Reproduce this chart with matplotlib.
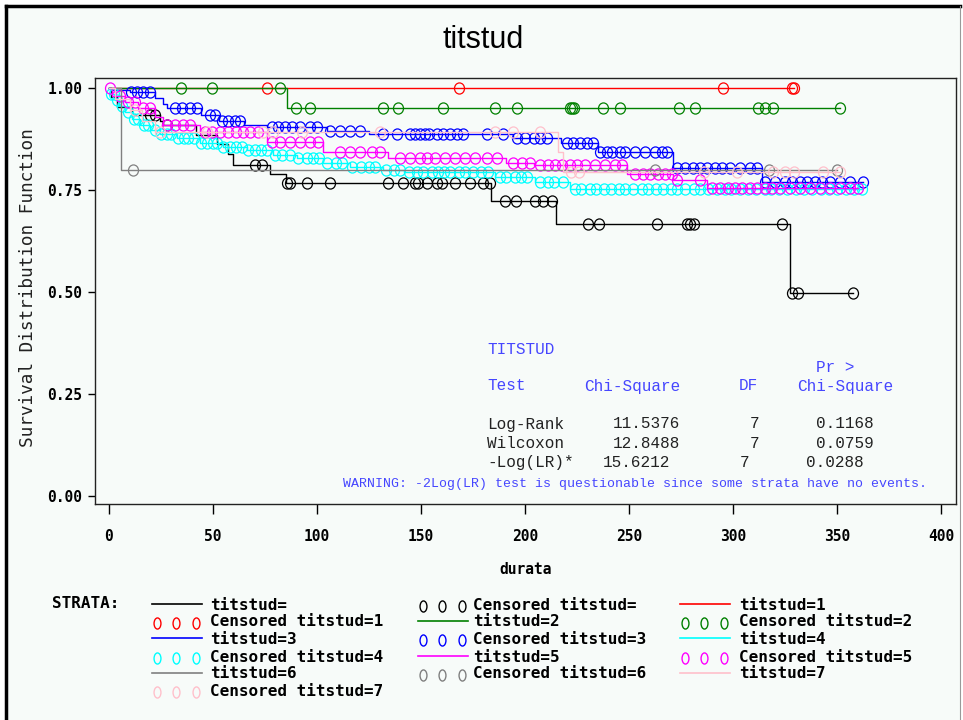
import numpy as np
import matplotlib
matplotlib.use('Agg')
import matplotlib.pyplot as plt
from matplotlib.lines import Line2D
from matplotlib.patches import Rectangle
from matplotlib.path import Path

# ---------------- data ----------------
strata = ['titstud=', 'titstud=1', 'titstud=2', 'titstud=3',
          'titstud=4', 'titstud=5', 'titstud=6', 'titstud=7']

black_t = [1, 4, 11, 24.5, 26, 42, 52, 57, 59.5, 77.4, 85, 183.6, 215, 327]
black_s = [0.977, 0.953, 0.935, 0.92, 0.91, 0.885, 0.862, 0.838, 0.812, 0.79,
           0.767, 0.723, 0.667, 0.497]
black_c = [19.7, 22, 27.9, 70, 73.6, 85.6, 87, 95.2, 106, 134, 141.3, 147, 148.6,
           152.9, 157.7, 160, 166.3, 173.6, 179.8, 183, 190.4, 195.7, 204.8, 208.7,
           213, 230.3, 235.6, 263.5, 277.9, 279.3, 281.3, 323.6, 328.4, 331.3, 357.7]

red_t = []
red_s = []
red_c = [76, 168, 295, 328, 329]

green_t = [85.6]
green_s = [0.952]
green_c = [34.6, 49.5, 82.2, 89.9, 96.6, 131.7, 139, 160.6, 185.6, 196, 221.6,
           222.5, 223.5, 237.4, 245.7, 274, 281.7, 312, 315.4, 319, 351.4]

blue_t = [1, 10, 22, 26, 28, 44, 53, 65, 76, 105, 125, 194, 217, 235, 271, 314]
blue_s = [0.995, 0.99, 0.975, 0.96, 0.95, 0.934, 0.92, 0.91, 0.905, 0.895, 0.887,
          0.877, 0.865, 0.843, 0.804, 0.77]
blue_c = [10.5, 13.5, 16.3, 19.7, 31.7, 35, 39, 42.3, 48.6, 51, 54.3, 57.2, 60.6, 63,
          78.4, 81, 84.6, 88, 91.8, 96.6, 100, 106, 111, 115.9, 120.7, 131.7, 138.5,
          144.7, 147, 149.5, 152, 154, 157.7, 160.6, 164, 167.3, 170, 181.7, 189.4,
          196, 200, 204, 207, 210.6, 220, 223, 226.4, 229.8, 232.7, 236, 239.4, 241.8,
          245.7, 248, 252.9, 257.7, 262.5, 265.9, 268.3, 273, 277, 280.8, 284, 287.5,
          291, 294.7, 298.6, 303.4, 308, 311.5, 315.4, 320, 325, 328.4, 332, 335.6,
          339.4, 342.8, 346.6, 351.4, 356.3, 362.5]

cyan_t = [0.5, 3, 5, 7.7, 11, 15, 19.7, 24.5, 32.7, 43.8, 54.8, 66.3, 78.8, 90.4,
          102.9, 115.9, 131.7, 142, 185.6, 204.8, 221.6]
cyan_s = [0.985, 0.97, 0.955, 0.94, 0.925, 0.91, 0.897, 0.887, 0.877, 0.865, 0.855,
          0.848, 0.836, 0.828, 0.816, 0.806, 0.799, 0.794, 0.782, 0.77, 0.752]
cyan_c = [1, 2.5, 4, 6.5, 9, 12, 14, 17, 19, 22, 25, 28, 30, 33, 36, 38, 41, 44, 47,
          50, 52, 55, 58, 61, 64, 67, 70, 73, 76, 80, 83, 87, 91, 95, 98, 101, 105,
          109, 112, 117, 121, 125, 128, 133, 137, 140, 144, 148, 151, 155, 158, 161,
          164, 168, 171, 175, 179, 182, 188, 191, 195, 198, 201, 207, 211, 214, 218,
          224, 227, 231, 234, 238, 241, 245, 248, 252, 256, 259, 263, 266, 270, 273,
          277, 281, 284, 288, 292, 296, 299, 303, 307, 311, 315, 318, 322, 326, 330,
          334, 338, 342, 346, 350, 354, 358, 362]

mag_t = [1.5, 7.7, 14, 22, 26, 43.8, 76, 103, 134, 191, 204, 249, 271, 287.5]
mag_s = [0.98, 0.965, 0.95, 0.93, 0.91, 0.892, 0.868, 0.843, 0.828, 0.816, 0.811,
         0.79, 0.775, 0.755]
mag_c = [0.5, 5.3, 9, 12.5, 16.3, 19.7, 27.9, 31.7, 35.6, 39, 46, 49.5, 53.4, 57.2,
         61, 64.4, 67.8, 71.6, 78.4, 82.2, 87, 91.8, 96.6, 100.5, 111, 115.9, 120.7,
         126.4, 130.3, 140, 144.7, 149.5, 152.9, 156.7, 161.5, 166.3, 171, 176, 181.7,
         186.5, 194, 198.6, 202.4, 207, 211, 214.4, 217.8, 221.6, 225, 228.8, 233.7,
         238.5, 243.3, 246.6, 252.9, 256.7, 260, 264, 267.3, 270.7, 273, 284, 290,
         293.8, 297.6, 301, 304, 308, 311.5, 315.4, 318.8, 322.6, 327.4, 332, 337,
         341.8, 346.6, 351.4, 356, 360]

gray_t = [5.6]
gray_s = [0.80]
gray_c = [11.5, 262.5, 317, 350]

pink_t = [3, 10, 16, 22, 216, 218]
pink_s = [0.973, 0.946, 0.919, 0.892, 0.843, 0.795]
pink_c = [12.5, 24.5, 47, 74, 78.8, 93, 130, 185.6, 194, 207, 222, 226, 286, 302,
          319, 325, 329, 343, 351.4]

series = [(black_t, black_s, black_c), (red_t, red_s, red_c),
          (green_t, green_s, green_c), (blue_t, blue_s, blue_c),
          (cyan_t, cyan_s, cyan_c), (mag_t, mag_s, mag_c),
          (gray_t, gray_s, gray_c), (pink_t, pink_s, pink_c)]
colors = ['black', '#FF0000', '#008000', '#0000FF', '#00FFFF', '#FF00FF',
          '#808080', '#FFC0CB']

x_ticks = [0, 50, 100, 150, 200, 250, 300, 350, 400]
y_ticks = [0.0, 0.25, 0.50, 0.75, 1.00]

test_names = ['Log-Rank', 'Wilcoxon', '-Log(LR)*']
chi_sq = ['11.5376', '12.8488', '15.6212']
dfs = ['7', '7', '7']
p_vals = ['0.1168', '0.0759', '0.0288']

# ---------------- figure ----------------
W, H = 963, 720
BG = '#F7FBF9'
fig = plt.figure(figsize=(W / 100, H / 100), dpi=100, facecolor='white')


def px(x, y):
    return x / W, 1 - y / H


# outer panel
fig.patches.append(Rectangle(px(6, 730), (960 - 6) / W, (730 - 6) / H,
                             transform=fig.transFigure, facecolor=BG,
                             edgecolor='none', zorder=-10))
fig.add_artist(Line2D([6 / W, 6 / W], [1 - 6 / H, 0], transform=fig.transFigure,
                      color='black', lw=2.5, zorder=-5))
fig.add_artist(Line2D([6 / W, 960 / W], [1 - 6 / H, 1 - 6 / H],
                      transform=fig.transFigure, color='black', lw=2.5, zorder=-5))
fig.add_artist(Line2D([960 / W, 960 / W], [1 - 6 / H, 0], transform=fig.transFigure,
                      color='#999999', lw=0.8, zorder=-5))

ax = fig.add_axes([95 / W, 1 - 504 / H, (956 - 95) / W, (504 - 78) / H])
ax.set_facecolor(BG)
ax.set_zorder(1)

# slightly tall circle marker, as in the SAS output
uc = Path.unit_circle()
oval = Path(uc.vertices * np.array([0.9, 1.0]), uc.codes)
oval_leg = Path(uc.vertices * np.array([0.62, 1.0]), uc.codes)

for (t, s, c), col in zip(series, colors):
    t = np.asarray(t, float)
    s = np.asarray(s, float)
    c = np.asarray(c, float)
    levels = np.concatenate([[1.0], s])
    tend = max(np.max(c) if c.size else 0, np.max(t) if t.size else 0)
    xs = np.concatenate([[0.0], t, [tend]])
    ys = np.concatenate([levels, [levels[-1]]])
    ax.plot(xs, ys, drawstyle='steps-post', color=col, lw=1.0)
    cy = levels[np.searchsorted(t, c, side='right')]
    ax.plot(c, cy, linestyle='none', marker=oval, markersize=8,
            markerfacecolor='none', markeredgecolor=col, markeredgewidth=0.9)

ax.set_xlim(-6.7, 407)
ax.set_ylim(-0.0196, 1.0245)
ax.set_xticks(x_ticks)
ax.set_yticks(y_ticks)
ax.set_yticklabels([f'{v:.2f}' for v in y_ticks])
mono = 'DejaVu Sans Mono'
for lab in ax.get_xticklabels() + ax.get_yticklabels():
    lab.set_fontfamily(mono)
    lab.set_fontweight('bold')
    lab.set_fontsize(10.5)
ax.tick_params(axis='x', direction='out', length=7, width=1, pad=11)
ax.tick_params(axis='y', direction='out', length=5, width=1, pad=4)
for sp in ax.spines.values():
    sp.set_linewidth(1.0)
    sp.set_color('#222222')

ax.set_xlabel('durata', fontfamily=mono, fontweight='bold', fontsize=10.5,
              labelpad=13)

fig.text(*px(483, 40), 'titstud', ha='center', va='center',
         fontfamily='Liberation Sans', fontsize=22)
fig.text(*px(28, 288), 'Survival Distribution Function', rotation=90,
         ha='center', va='center', fontfamily=mono, fontsize=12.8, color='#222222')

# statistics table
tblue = '#4646FF'
tfont = dict(fontfamily='Liberation Mono', fontsize=11.5, va='center', zorder=5)
fig.text(*px(487, 349), 'TITSTUD', color=tblue, **tfont)
fig.text(*px(816, 368), 'Pr >', color=tblue, **tfont)
fig.text(*px(487, 386), 'Test', color=tblue, **tfont)
fig.text(*px(584, 386), 'Chi-Square', color=tblue, **tfont)
fig.text(*px(739, 386), 'DF', color=tblue, **tfont)
fig.text(*px(797, 386), 'Chi-Square', color=tblue, **tfont)
row_y = [424, 443, 462]
chi_x = [613, 613, 603]
df_x = [750, 750, 740]
p_x = [816, 816, 806]
for i in range(3):
    fig.text(*px(487, row_y[i]), test_names[i], color='#222222', **tfont)
    fig.text(*px(chi_x[i], row_y[i]), chi_sq[i], color='#222222', **tfont)
    fig.text(*px(df_x[i], row_y[i]), dfs[i], color='#222222', **tfont)
    fig.text(*px(p_x[i], row_y[i]), p_vals[i], color='#222222', **tfont)
fig.text(*px(343, 484),
         'WARNING: -2Log(LR) test is questionable since some strata have no events.',
         color=tblue, fontfamily='Liberation Mono', fontsize=9.55, va='center',
         zorder=5)

# legend (row-major, three columns)
lfont = dict(fontfamily=mono, fontweight='bold', fontsize=11.5, va='center')
fig.text(*px(52, 604), 'STRATA:', **lfont)
items = []
for name, col in zip(strata, colors):
    items.append(('line', name, col))
    items.append(('circ', 'Censored ' + name, col))
col_sym = [152, 418, 680]
col_txt = [210, 473, 739]
row_ys = [604, 621, 638, 656, 673, 690]
for k, (kind, label, col) in enumerate(items):
    r, cidx = divmod(k, 3)
    y = row_ys[r]
    x0 = col_sym[cidx]
    yf = 1 - y / H
    if kind == 'line':
        fig.add_artist(Line2D([x0 / W, (x0 + 50) / W], [yf, yf],
                              transform=fig.transFigure, color=col, lw=1.2))
    else:
        for dx in (5, 24, 44):
            fig.add_artist(Line2D([(x0 + dx) / W], [yf - 1.5 / H],
                                  transform=fig.transFigure,
                                  linestyle='none', marker=oval_leg, markersize=8,
                                  markerfacecolor='none', markeredgecolor=col,
                                  markeredgewidth=1.0))
    fig.text(*px(col_txt[cidx], y + 1), label, **lfont)

fig.savefig('out.png', dpi=100, facecolor='white')
